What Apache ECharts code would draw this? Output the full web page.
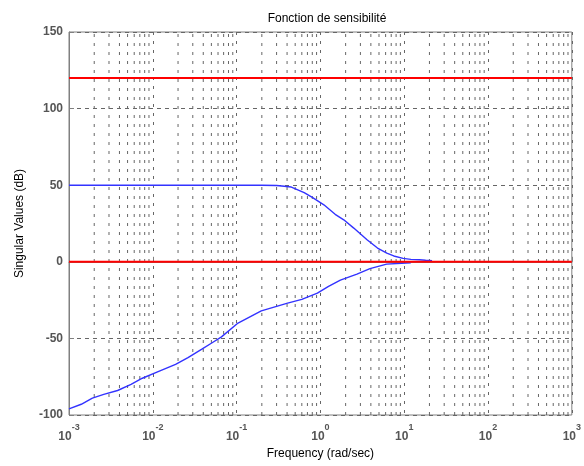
<!DOCTYPE html>
<html>
<head>
<meta charset="utf-8">
<script src="https://cdn.jsdelivr.net/npm/echarts@6/dist/echarts.min.js"></script>
<style>html,body{margin:0;padding:0;background:#fff}#c{width:584px;height:466px}</style>
</head>
<body>
<div id="c"></div>
<script>
const titleText = 'Fonction de sensibilité';
const xName = 'Frequency (rad/sec)';
const yName = 'Singular Values (dB)';
const xDecades = [-3, -2, -1, 0, 1, 2, 3];
const yTicks = [-100, -50, 0, 50, 100, 150];
const refLevels = [0, 120];

// upper singular value
const upperFreq = [0.001, 0.01, 0.1, 0.2, 0.3, 0.37, 0.45, 0.64, 0.8, 1.1, 1.5, 1.9, 2.5, 3.6, 4.8, 6.2, 7.5, 9.7, 12, 15.2, 18, 21.5];
const upperDb =   [50, 50, 50, 50, 49.8, 49.3, 48.8, 45.2, 42, 37.2, 31, 27.4, 22, 14.4, 9, 5.7, 3.8, 2.2, 1.6, 1.3, 1, 0.8];
// lower singular value
const lowerFreq = [0.001, 0.0014, 0.0019, 0.0026, 0.0038, 0.0055, 0.0075, 0.0112, 0.0187, 0.0263, 0.0385, 0.0505, 0.066, 0.104, 0.197, 0.406, 0.6, 0.92, 1.25, 1.73, 2.73, 3.9, 6.17, 9.3, 12];
const lowerDb =   [-96, -93, -89, -86.5, -84, -80, -76, -72, -67, -62.5, -57, -53, -49, -40, -32, -27, -24.5, -20.5, -16, -12, -8, -4.5, -1.5, -0.9, -0.7];

const minorGrid = [];
for (let d = -3; d < 3; d++) {
  for (let m = 2; m <= 9; m++) minorGrid.push(+(m * Math.pow(10, d)).toPrecision(3));
}
const minorGridData = [];
minorGrid.forEach(v => { minorGridData.push([v, -100], [v, 150], '-'); });

const gridColor = '#666';
const axisColor = '#808080';
const textColor = '#555';

const chart = echarts.init(document.getElementById('c'), null, {renderer: 'canvas'});
chart.setOption({
  animation: false,
  title: {
    text: titleText, left: 322, top: 8, textAlign: 'center',
    textStyle: {fontFamily: 'Liberation Sans, Arial', fontSize: 12, fontWeight: 'normal', color: '#000'}
  },
  grid: {left: 69, right: 8, top: 32, bottom: 51, show: true, borderColor: axisColor, borderWidth: 1},
  xAxis: {
    type: 'log', logBase: 10, min: 0.001, max: 1000,
    name: xName, nameLocation: 'middle', nameGap: 33,
    nameTextStyle: {fontFamily: 'Liberation Sans, Arial', fontSize: 12, color: '#000'},
    axisLine: {show: true, lineStyle: {color: axisColor}},
    axisTick: {show: true, inside: true, length: 5, lineStyle: {color: axisColor}},
    splitLine: {show: true, lineStyle: {color: gridColor, type: [3, 6], width: 1}},
    axisLabel: {
      margin: 8,
      formatter: function (v) {
        const e = Math.round(Math.log10(v));
        return '{b|10}{s|' + e + '}';
      },
      rich: {
        b: {fontFamily: 'Liberation Sans, Arial', fontSize: 12, fontWeight: 'bold', color: textColor, padding: [8, 0, 0, 0]},
        s: {fontFamily: 'Liberation Sans, Arial', fontSize: 9, fontWeight: 'bold', color: textColor, verticalAlign: 'top', padding: [0, 0, 0, 0]}
      }
    }
  },
  yAxis: {
    type: 'value', min: -100, max: 150, interval: 50,
    name: yName, nameLocation: 'middle', nameGap: 43, nameRotate: 90,
    nameTextStyle: {fontFamily: 'Liberation Sans, Arial', fontSize: 12, color: '#000'},
    axisLine: {show: true, lineStyle: {color: axisColor}},
    axisTick: {show: true, inside: true, length: 5, lineStyle: {color: axisColor}},
    splitLine: {show: true, lineStyle: {color: gridColor, type: [4, 4], width: 1}},
    axisLabel: {fontFamily: 'Liberation Sans, Arial', fontSize: 12, fontWeight: 'bold', color: textColor, margin: 6}
  },
  series: [
    {
      type: 'line', silent: true, showSymbol: false, connectNulls: false,
      data: minorGridData,
      lineStyle: {color: gridColor, type: [3, 6], width: 1}
    },
    {
      type: 'line', showSymbol: false, silent: true,
      data: upperFreq.map((f, i) => [f, upperDb[i]]),
      lineStyle: {color: '#3333ff', width: 1.4}
    },
    {
      type: 'line', showSymbol: false, silent: true,
      data: lowerFreq.map((f, i) => [f, lowerDb[i]]),
      lineStyle: {color: '#3333ff', width: 1.4}
    },
    ...refLevels.map(l => ({
      type: 'line', showSymbol: false, silent: true,
      data: [[0.001, l], [1000, l]],
      lineStyle: {color: '#ff0000', width: 2}
    }))
  ]
});
</script>
</body>
</html>
